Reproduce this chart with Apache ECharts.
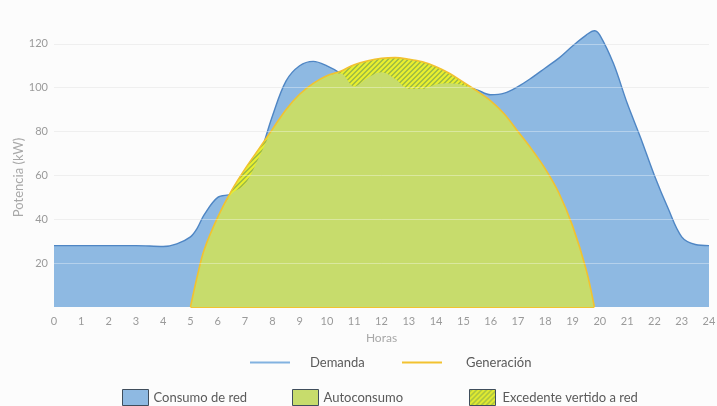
<!DOCTYPE html>
<html>
<head>
<meta charset="utf-8">
<script src="https://cdn.jsdelivr.net/npm/echarts@6/dist/echarts.min.js"></script>
<style>
  html, body { margin: 0; padding: 0; background: #fcfcfc; }
  #chart { width: 717px; height: 406px; }
</style>
</head>
<body>
<div id="chart"></div>
<script>
// Hourly profile (hours of the day, kW)
const hours = [0, 1, 2, 3, 4, 4.5, 5, 5.25, 5.5, 6, 6.5, 7, 7.5, 8, 8.5, 9, 9.5, 10, 10.5,
  11, 11.5, 12, 12.5, 13, 13.5, 14, 14.5, 15, 15.5, 16, 16.5, 17, 17.5, 18, 18.5, 19,
  19.5, 19.8, 20, 20.5, 21, 21.5, 22, 22.5, 23, 23.5, 24];

// Demanda (consumption of the building)
const demand = [28, 28, 28, 28, 27.6, 28.8, 32, 36, 42, 50, 51.5, 56, 68, 87, 103, 110, 112,
  110, 106.5, 100.5, 104.5, 107, 104, 99.5, 99.5, 101.5, 102, 101, 99, 96.8, 97.5, 100.5,
  104.5, 109, 113.5, 119, 124, 126, 124, 111, 93, 77, 60, 45, 32, 28.5, 28];

// Generación (PV output, only during daylight)
const generation = [null, null, null, null, null, null, 0, 14, 26, 41, 53, 63, 72, 81, 90, 97,
  102, 105.5, 107.5, 110.5, 112.3, 113.4, 113.7, 113, 111.8, 109.6, 106.5, 102.5, 98.5, 94,
  88, 80, 72, 63, 52, 37, 17, 0, null, null, null, null, null, null, null, null, null];

const yTicks = { min: 0, max: 140, step: 20 };

const pair = (arr) => hours.map((h, i) => [h, arr[i]]);

// Self-consumed energy: the part of generation covered by demand
const selfUse = hours.map((h, i) =>
  generation[i] == null ? [h, null] : [h, Math.min(demand[i], generation[i])]);

const genHours = hours.filter((h, i) => generation[i] != null);

// Diagonal hatch used for the surplus exported to the grid
function hatchPattern() {
  const s = 5;
  const c = document.createElement('canvas');
  c.width = s; c.height = s;
  const g = c.getContext('2d');
  g.fillStyle = '#9ab846';
  g.fillRect(0, 0, s, s);
  g.strokeStyle = '#eaf02e';
  g.lineWidth = 2.1;
  g.beginPath();
  g.moveTo(0, s); g.lineTo(s, 0);
  g.moveTo(-1, 1); g.lineTo(1, -1);
  g.moveTo(s - 1, s + 1); g.lineTo(s + 1, s - 1);
  g.stroke();
  return { image: c, repeat: 'repeat' };
}
const hatch = hatchPattern();

const C = {
  blueFill: '#8eb9e2',
  blueLine: '#4f86c4',
  blueLegend: '#82b2e0',
  green: '#c7dc6c',
  yellow: '#f2c230',
  text: '#5a5a5a',
  axis: '#9a9a9a',
  grid: '#e6e6e6',
  border: '#3f4d5c'
};
const FONT = 'Lato';

const chart = echarts.init(document.getElementById('chart'), null, { renderer: 'canvas' });

const legendBase = {
  orient: 'horizontal',
  selectedMode: false,
  padding: 0,
  textStyle: { color: C.text, fontFamily: FONT, fontSize: 13 },
  icon: 'rect'
};

chart.setOption({
  backgroundColor: '#fcfcfc',
  animation: false,
  grid: { left: 54, right: 8, top: 0, bottom: 99, outerBoundsMode: 'none', containLabel: false },
  xAxis: {
    type: 'value',
    min: 0, max: 24, interval: 1,
    name: 'Horas',
    nameLocation: 'middle',
    nameGap: 25,
    nameMoveOverlap: false,
    nameTextStyle: { color: '#a8a8a8', fontFamily: FONT, fontSize: 12 },
    axisLine: { show: false },
    axisTick: { show: false },
    splitLine: { show: false },
    axisLabel: { color: C.axis, fontFamily: FONT, fontSize: 11, margin: 9 }
  },
  yAxis: [
    {
      type: 'value',
      min: yTicks.min, max: yTicks.max, interval: yTicks.step,
      name: 'Potencia (kW)',
      nameLocation: 'middle',
      nameGap: 29,
      nameMoveOverlap: false,
      nameTextStyle: { color: '#a8a8a8', fontFamily: FONT, fontSize: 13, padding: [0, 48, 0, 0] },
      axisLine: { show: false },
      axisTick: { show: false },
      axisLabel: { color: C.axis, fontFamily: FONT, fontSize: 11, margin: 6,
        showMinLabel: false, showMaxLabel: false },
      splitLine: { show: true, showMinLine: false, showMaxLine: false,
        lineStyle: { color: C.grid, width: 1 } }
    },
    {
      // faint grid drawn over the filled areas
      type: 'value',
      min: yTicks.min, max: yTicks.max, interval: yTicks.step,
      z: 10,
      axisLine: { show: false },
      axisTick: { show: false },
      axisLabel: { show: false },
      splitLine: { show: true, showMinLine: false, showMaxLine: false,
        lineStyle: { color: 'rgba(255,255,255,0.35)', width: 1 } }
    }
  ],
  legend: [
    Object.assign({}, legendBase, {
      left: 250, top: 356, itemWidth: 40, itemHeight: 2,
      textStyle: Object.assign({}, legendBase.textStyle, { padding: [0, 0, 0, 15] }),
      data: [{ name: 'Demanda', itemStyle: { color: C.blueLegend } }]
    }),
    Object.assign({}, legendBase, {
      left: 402, top: 356, itemWidth: 40, itemHeight: 2,
      textStyle: Object.assign({}, legendBase.textStyle, { padding: [0, 0, 0, 19] }),
      data: [{ name: 'Generación', itemStyle: { color: C.yellow } }]
    }),
    Object.assign({}, legendBase, {
      left: 122, top: 389, itemWidth: 26, itemHeight: 16,
      data: [{ name: 'Consumo de red',
        itemStyle: { color: C.blueFill, borderColor: C.border, borderWidth: 1 } }]
    }),
    Object.assign({}, legendBase, {
      left: 292, top: 389, itemWidth: 26, itemHeight: 16,
      data: [{ name: 'Autoconsumo',
        itemStyle: { color: C.green, borderColor: C.border, borderWidth: 1 } }]
    }),
    Object.assign({}, legendBase, {
      left: 469, top: 389, itemWidth: 26, itemHeight: 16,
      textStyle: Object.assign({}, legendBase.textStyle, { padding: [0, 0, 0, 2] }),
      data: [{ name: 'Excedente vertido a red',
        itemStyle: { color: hatch, borderColor: C.border, borderWidth: 1 } }]
    })
  ],
  series: [
    {
      name: 'Consumo de red',
      type: 'line',
      data: pair(demand),
      smooth: 0.35,
      symbol: 'none',
      z: 2,
      itemStyle: { color: C.blueFill },
      lineStyle: { width: 0 },
      areaStyle: { color: C.blueFill, opacity: 1 }
    },
    {
      name: 'Demanda',
      type: 'line',
      data: pair(demand),
      smooth: 0.35,
      symbol: 'none',
      z: 3,
      itemStyle: { color: C.blueLegend },
      lineStyle: { color: C.blueLine, width: 1.4 }
    },
    {
      name: 'Excedente vertido a red',
      type: 'line',
      data: pair(generation),
      smooth: 0.35,
      symbol: 'none',
      z: 4,
      itemStyle: { color: '#a9c43a' },
      lineStyle: { width: 0 },
      areaStyle: { color: hatch, opacity: 1 }
    },
    {
      name: 'Autoconsumo',
      type: 'line',
      data: selfUse,
      smooth: 0.35,
      symbol: 'none',
      z: 5,
      itemStyle: { color: C.green },
      lineStyle: { width: 0 },
      areaStyle: { color: C.green, opacity: 1 }
    },
    {
      name: 'Generación',
      type: 'line',
      data: pair(generation),
      smooth: 0.35,
      symbol: 'none',
      z: 6,
      itemStyle: { color: C.yellow },
      lineStyle: { color: C.yellow, width: 1.6 },
      markLine: {
        silent: true,
        symbol: 'none',
        label: { show: false },
        lineStyle: { color: C.yellow, width: 2, type: 'solid' },
        data: [[{ coord: [genHours[0], 0] }, { coord: [genHours[genHours.length - 1], 0] }]]
      }
    }
  ]
});
</script>
</body>
</html>
